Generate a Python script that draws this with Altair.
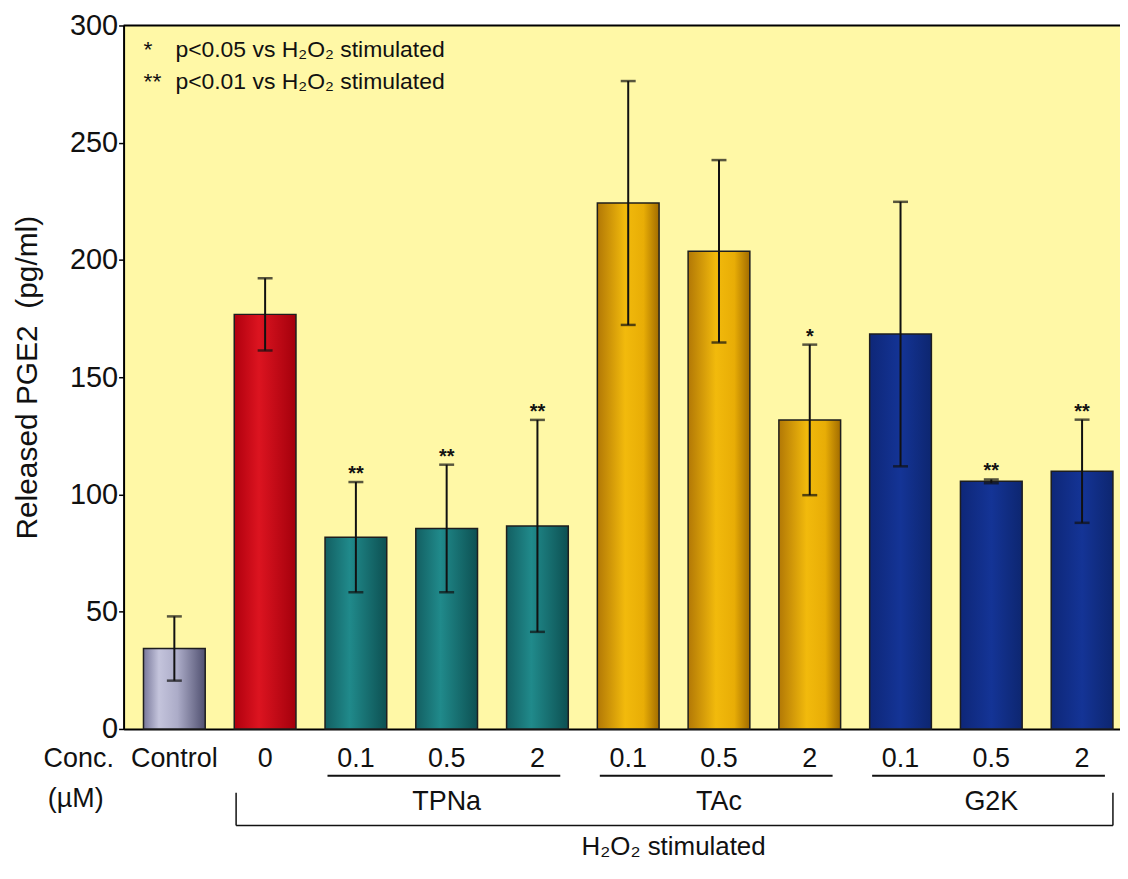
import altair as alt
import pandas as pd

# ---------------- data ----------------
categories = ["Control", "0", "TPNa 0.1", "TPNa 0.5", "TPNa 2",
              "TAc 0.1", "TAc 0.5", "TAc 2", "G2K 0.1", "G2K 0.5", "G2K 2"]
conc_labels = ["Control", "0", "0.1", "0.5", "2", "0.1", "0.5", "2", "0.1", "0.5", "2"]
groups = ["Control", "H2O2", "TPNa", "TPNa", "TPNa", "TAc", "TAc", "TAc", "G2K", "G2K", "G2K"]
means = [34.3, 176.8, 81.8, 85.5, 86.6, 224.3, 203.7, 131.8, 168.4, 105.6, 109.9]
sds = [13.7, 15.4, 23.5, 27.2, 45.2, 52.0, 38.9, 32.1, 56.4, 0.8, 22.0]
stars = ["", "", "**", "**", "**", "", "", "*", "", "**", "**"]

group_names = ["TPNa", "TAc", "G2K"]
group_start = ["TPNa 0.1", "TAc 0.1", "G2K 0.1"]
group_mid = ["TPNa 0.5", "TAc 0.5", "G2K 0.5"]
group_end = ["TPNa 2", "TAc 2", "G2K 2"]

bracket_left = ["0"]
bracket_right = ["G2K 2"]

legend_marks = ["*", "**"]
legend_texts = ["p<0.05 vs H\u2082O\u2082 stimulated", "p<0.01 vs H\u2082O\u2082 stimulated"]

df = pd.DataFrame({"cat": categories, "conc": conc_labels, "group": groups,
                   "mean": means, "sd": sds, "star": stars})
df["lo"] = df["mean"] - df["sd"]
df["hi"] = df["mean"] + df["sd"]
gdf = pd.DataFrame({"name": group_names, "start": group_start, "mid": group_mid, "end": group_end})
bdf = pd.DataFrame({"left": bracket_left, "right": bracket_right})
ldf = pd.DataFrame({"mark": legend_marks, "text": legend_texts, "row": [0, 1]})

# ---------------- styles ----------------
W, H = 1000, 706
FONT = "Liberation Sans"
BG = "#fff8a6"

gradients = {
    "Control": [(0, "#78789a"), (0.25, "#c4c4dc"), (0.55, "#acacc8"), (1, "#505070")],
    "H2O2": [(0, "#b0000e"), (0.4, "#dc1420"), (1, "#a4000c")],
    "TPNa": [(0, "#135f62"), (0.4, "#208a8b"), (1, "#0d5052")],
    "TAc": [(0, "#b27806"), (0.45, "#f2ba0c"), (0.75, "#e8ad06"), (1, "#a26c00")],
    "G2K": [(0, "#0e2778"), (0.5, "#143496"), (1, "#0d2670")],
}

xscale = alt.Scale(domain=categories, paddingInner=0.32, paddingOuter=0.1485, align=0.738)
yscale = alt.Scale(domain=[0, 300])
yaxis = alt.Axis(values=[0, 50, 100, 150, 200, 250, 300], title="Released PGE2\u00a0 (pg/ml)",
                 grid=False, domainColor="black", domainWidth=2, tickColor="black",
                 tickWidth=1.5, tickSize=5, labelPadding=1, labelFont=FONT,
                 labelFontSize=29, labelColor="#111", titleFont=FONT, titleFontSize=30,
                 titleFontWeight="normal", titleColor="#111", titlePadding=27)
xaxis = alt.Axis(labels=False, ticks=False, title=None, domainColor="black", domainWidth=2,
                 grid=False)


def X(field="cat", band=None):
    if band is None:
        return alt.X(f"{field}:N", scale=xscale, axis=xaxis)
    return alt.X(f"{field}:N", scale=xscale, axis=xaxis, bandPosition=band)


def Y(field):
    return alt.Y(f"{field}:Q", scale=yscale, axis=yaxis)


base = alt.Chart(df)
layers = []

for g, stops in gradients.items():
    grad = alt.LinearGradient(gradient="linear",
                              stops=[alt.GradientStop(offset=o, color=c) for o, c in stops],
                              x1=0, x2=1, y1=0, y2=0)
    layers.append(
        base.transform_filter(alt.datum.group == g)
        .mark_bar(fill=grad, stroke="#1e1e1e", strokeWidth=1.5)
        .encode(x=X(), y=Y("mean"))
    )

layers.append(base.mark_rule(color="#111", strokeWidth=2).encode(x=X(), y=Y("lo"), y2="hi:Q"))
layers.append(base.mark_tick(color="#111", thickness=2.5, size=15).encode(x=X(), y=Y("lo")))
layers.append(base.mark_tick(color="#111", thickness=2.5, size=15).encode(x=X(), y=Y("hi")))

layers.append(
    base.transform_filter(alt.datum.star != "")
    .mark_text(font=FONT, fontSize=20, fontWeight="bold", baseline="alphabetic", dy=-2, color="#111")
    .encode(x=X(), y=Y("hi"), text="star:N")
)

# concentration labels below axis
layers.append(
    base.mark_text(font=FONT, fontSize=27, baseline="middle", color="#111")
    .encode(x=X(), y=alt.value(H + 30), text="conc:N")
)

gbase = alt.Chart(gdf)
layers.append(
    gbase.mark_rule(color="#111", strokeWidth=2)
    .encode(x=X("start", 0.04), x2=alt.X2("end:N", bandPosition=0.87), y=alt.value(H + 47))
)
layers.append(
    gbase.mark_text(font=FONT, fontSize=27, baseline="middle", color="#111")
    .encode(x=X("mid"), y=alt.value(H + 73), text="name:N")
)

bbase = alt.Chart(bdf)
layers.append(bbase.mark_rule(color="#111", strokeWidth=1.5)
              .encode(x=X("left", 0.03), y=alt.value(H + 64), y2=alt.value(H + 97)))
layers.append(bbase.mark_rule(color="#111", strokeWidth=1.5)
              .encode(x=X("right", 1.0), y=alt.value(H + 64), y2=alt.value(H + 97)))
layers.append(bbase.mark_rule(color="#111", strokeWidth=1.5)
              .encode(x=X("left", 0.03), x2=alt.X2("right:N", bandPosition=1.0), y=alt.value(H + 97)))
layers.append(bbase.mark_text(font=FONT, fontSize=26, baseline="middle", color="#111",
                              text="H\u2082O\u2082 stimulated")
              .encode(x=alt.value(552), y=alt.value(H + 119)))

# Conc. / (µM)
layers.append(bbase.mark_text(font=FONT, fontSize=27, baseline="middle", color="#111",
                              text="Conc.").encode(x=alt.value(-45), y=alt.value(H + 30)))
layers.append(bbase.mark_text(font=FONT, fontSize=27, baseline="middle", color="#111",
                              text="(\u00b5M)").encode(x=alt.value(-48), y=alt.value(H + 70)))

# top frame line
layers.append(bbase.mark_rule(color="black", strokeWidth=2)
              .encode(x=alt.value(0), x2=alt.value(W), y=alt.value(0)))

# significance legend
lbase = alt.Chart(ldf)
for r, ypix in [(0, 25), (1, 57)]:
    sub = lbase.transform_filter(alt.datum.row == r)
    layers.append(sub.mark_text(font=FONT, fontSize=23, align="left", baseline="middle", color="#111")
                  .encode(x=alt.value(20), y=alt.value(ypix), text="mark:N"))
    layers.append(sub.mark_text(font=FONT, fontSize=23, align="left", baseline="middle", color="#111")
                  .encode(x=alt.value(52), y=alt.value(ypix), text="text:N"))

chart = alt.layer(*layers).properties(
    width=W, height=H,
    autosize=alt.AutoSizeParams(type="none"),
    padding={"left": 116, "top": 16, "right": 0, "bottom": 137},
    background="white",
).configure_view(stroke=None, fill=BG)

chart.save("out.html", embed_options={"renderer": "svg", "actions": False})
